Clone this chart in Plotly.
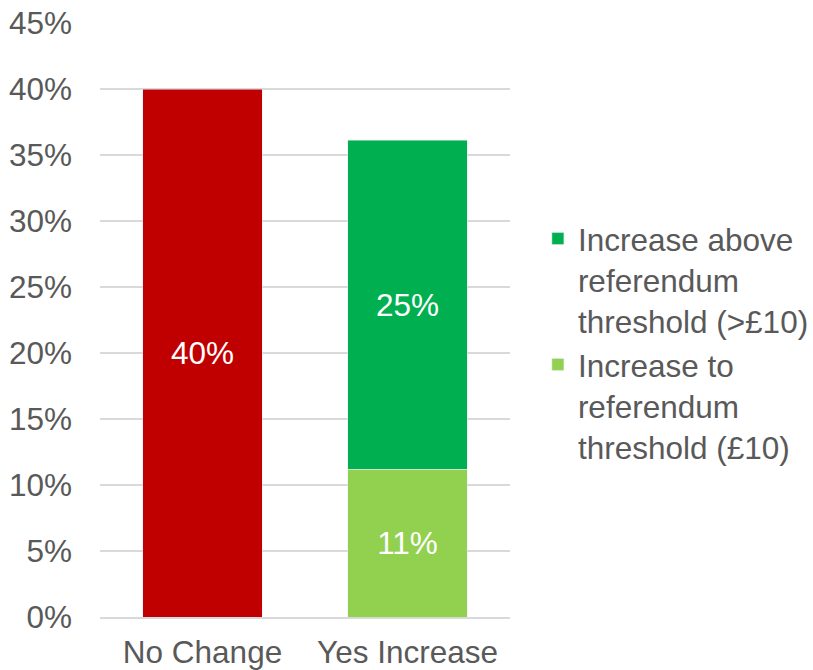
import plotly.graph_objects as go

categories = ["No Change", "Yes Increase"]
no_change = [40]
increase_to = [11.2]
increase_above = [24.9]
series_names = ["Increase to<br>referendum<br>threshold (£10)",
                "Increase above<br>referendum<br>threshold (>£10)"]
y_ticks = [0, 5, 10, 15, 20, 25, 30, 35, 40, 45]
y_tick_labels = ["0%", "5%", "10%", "15%", "20%", "25%", "30%", "35%", "40%", "45%"]

FONT = "Liberation Sans, Arial, sans-serif"
GRAY = "#595959"
FS = 31.5

fig = go.Figure()
fig.add_trace(go.Bar(x=[categories[0]], y=no_change, marker_color="#C00000",
                     showlegend=False, name="No Change",
                     texttemplate="%{y:.0f}%", textposition="inside",
                     insidetextanchor="middle",
                     textfont=dict(color="white", size=FS, family=FONT)))
fig.add_trace(go.Bar(x=[categories[1]], y=increase_to, marker_color="#92D050",
                     name=series_names[0],
                     texttemplate="%{y:.0f}%", textposition="inside",
                     insidetextanchor="middle",
                     textfont=dict(color="white", size=FS, family=FONT)))
fig.add_trace(go.Bar(x=[categories[1]], y=increase_above, marker_color="#00B050",
                     name=series_names[1],
                     texttemplate="%{y:.0f}%", textposition="inside",
                     insidetextanchor="middle",
                     textfont=dict(color="white", size=FS, family=FONT)))

fig.update_layout(
    width=813, height=670,
    margin=dict(l=100, r=303, t=23, b=53, autoexpand=False),
    barmode="stack", bargap=0.415,
    plot_bgcolor="white", paper_bgcolor="white",
    font=dict(family=FONT, size=FS, color=GRAY),
    uniformtext=dict(mode="show", minsize=FS),
    legend=dict(traceorder="reversed", x=1.068, xanchor="left", y=0.462, yanchor="middle",
                font=dict(size=FS, color=GRAY), valign="top",
                bgcolor="rgba(0,0,0,0)"),
    xaxis=dict(categoryorder="array", categoryarray=categories, automargin=False,
               showline=True, linecolor="#D9D9D9", linewidth=2,
               tickfont=dict(size=FS, color=GRAY), ticks="", ticklabelstandoff=6),
    yaxis=dict(range=[0, 45], tickvals=y_ticks, ticktext=y_tick_labels, automargin=False,
               showgrid=True, gridcolor="#D9D9D9", gridwidth=2,
               zeroline=False, tickfont=dict(size=FS, color=GRAY),
               ticks="", ticklabelstandoff=27),
)
fig.write_html("out.html", config={"displayModeBar": False},
               post_script="document.body.style.margin='0';document.body.style.overflow='hidden';")
